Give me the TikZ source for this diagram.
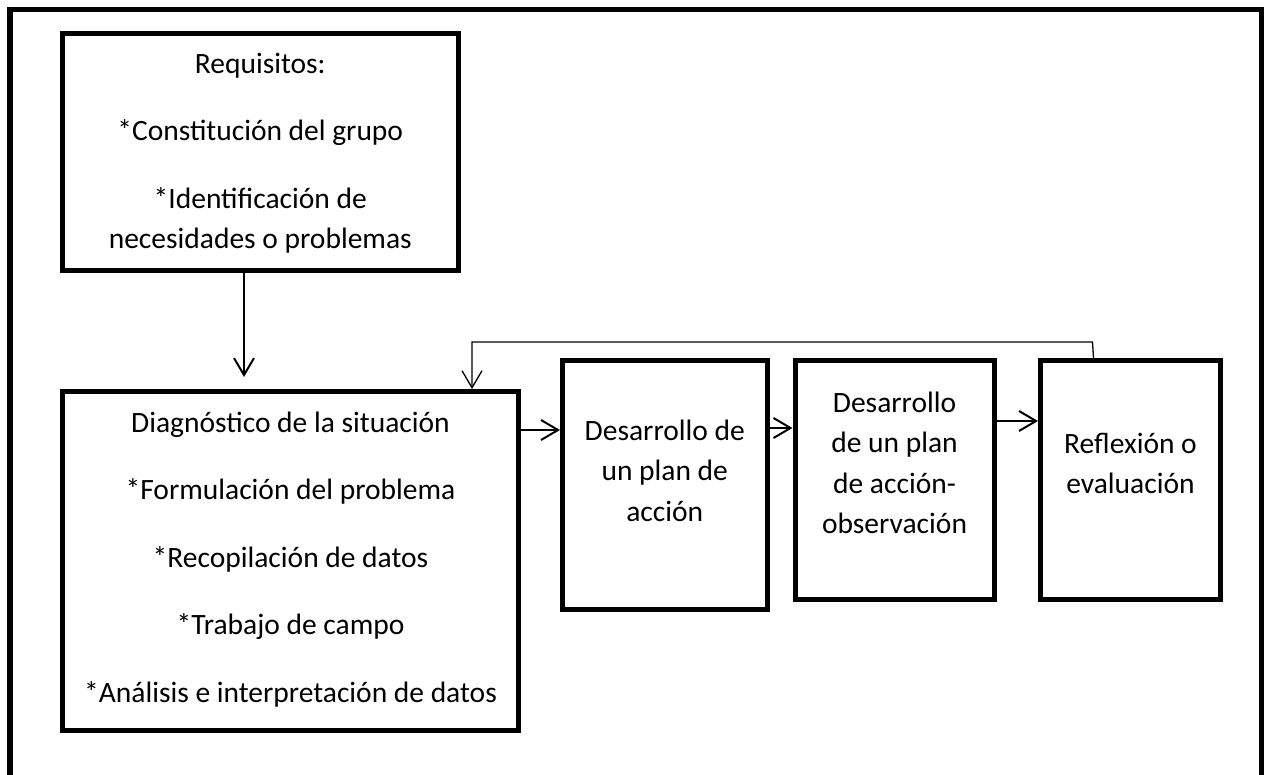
\documentclass[tikz,border=0pt]{standalone}
\usepackage{fontspec}
\setmainfont{Carlito}
\usetikzlibrary{arrows.meta}
\begin{document}
\begin{tikzpicture}[x=1pt,y=-1pt,
  stage/.style={draw, line width=5pt, inner sep=0pt, align=center,
    font=\fontsize{29.5}{40.5}\selectfont, text depth=10pt},
  arr/.style={line width=2pt, -{Straight Barb[length=17pt,width=20pt]}},
  fb/.style={line width=1.3pt, -{Straight Barb[length=17pt,width=20pt]}}]
\useasboundingbox (0,0) rectangle (1264,774);
% outer frame (open at the bottom)
\draw[line width=5.5pt] (10,800) -- (10,9.5) -- (1261.5,9.5) -- (1261.5,800);

\node[stage, minimum width=395.5pt, minimum height=236.5pt, text height=203.5pt]
  (req) at (260.25,151.75)
  {Requisitos:\\[27pt]*Constitución del grupo\\[27pt]*Identificación de\\necesidades o problemas};

\node[stage, minimum width=456pt, minimum height=338.5pt, text height=292.5pt]
  (diag) at (290.5,560.75)
  {Diagnóstico de la situación\\[27pt]*Formulación del problema\\[27pt]*Recopilación de datos\\[27pt]*Trabajo de campo\\[27pt]*Análisis e interpretación de datos};

\node[stage, minimum width=204.5pt, minimum height=249pt, text height=82pt]
  (plan) at (664.75,485)
  {Desarrollo de\\un plan de\\acción};

\node[stage, minimum width=199pt, minimum height=239pt, text height=117pt]
  (obs) at (894.5,480)
  {Desarrollo\\de un plan\\de acción-\\observación};

\node[stage, minimum width=180pt, minimum height=239pt, text height=37pt]
  (refl) at (1130.5,480)
  {Reflexión o\\evaluación};

% connectors
\coordinate (reqend) at (244,377);
\draw[arr] (req.south -| reqend) -- (reqend);

\coordinate (y1) at (0,430);
\coordinate (y2) at (0,428);
\coordinate (y3) at (0,421);
\draw[arr] (diag.east |- y1) -- (plan.west |- y1);
\draw[arr] (plan.east |- y2) -- (obs.west |- y2);
\draw[arr] (obs.east |- y3) -- (refl.west |- y3);

\coordinate (fbtop) at (1092.5,342);
\coordinate (fbleft) at (472,342);
\draw[fb] ([xshift=1pt]refl.north -| fbtop) -- (fbtop) -- (fbleft) -- (diag.north -| fbleft);
\end{tikzpicture}
\end{document}
